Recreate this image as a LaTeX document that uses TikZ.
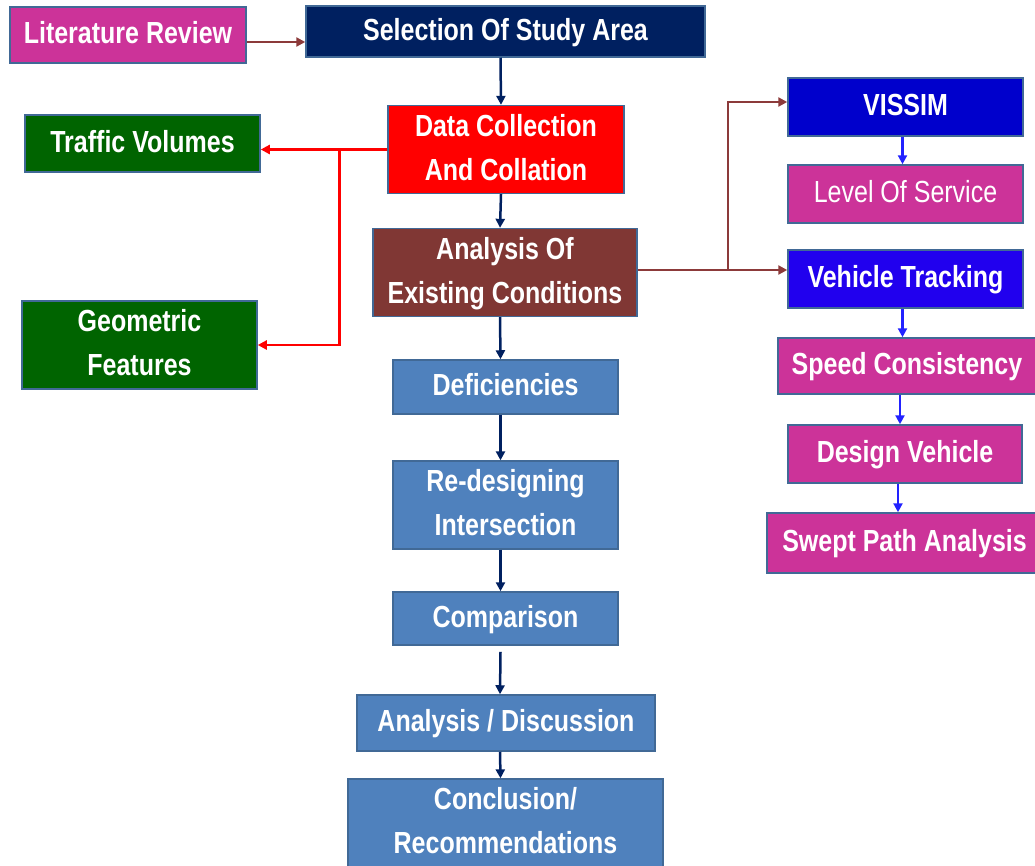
\documentclass[tikz,border=0pt]{standalone}
\usepackage{fontspec}
\setmainfont{Liberation Sans}
\usetikzlibrary{arrows.meta}
\definecolor{bordc}{RGB}{65,105,150}
\definecolor{magc}{RGB}{204,51,153}
\definecolor{navyc}{RGB}{0,32,96}
\definecolor{redc}{RGB}{255,0,0}
\definecolor{greenc}{RGB}{0,100,0}
\definecolor{brownc}{RGB}{128,55,52}
\definecolor{steelc}{RGB}{79,129,189}
\definecolor{visc}{RGB}{0,0,204}
\definecolor{vtc}{RGB}{33,0,238}
\definecolor{brarrc}{RGB}{140,58,58}
\definecolor{bluearrc}{RGB}{34,34,255}
\newcommand{\tx}[1]{\scalebox{1}[1.22]{\begin{tabular}{@{}c@{}}#1\end{tabular}}}
\begin{document}
\begin{tikzpicture}[x=1pt,y=-1pt,
  box/.style={draw=bordc, line width=1.5pt, inner sep=0pt, text=white,
    font=\fontsize{25}{36}\selectfont\bfseries},
  rbox/.style={box, font=\fontsize{25}{36}\selectfont},
  conn/.style={line width=2.5pt, -{Triangle[length=9pt,width=9pt]}},
  navyarr/.style={conn, draw=navyc},
  redarr/.style={conn, draw=redc},
  brarr/.style={conn, draw=brarrc},
  bluearr/.style={conn, draw=bluearrc}]
\useasboundingbox (0,0) rectangle (1035,865);
\fill[white] (0,0) rectangle (1035,865);

% left column
\node[box, fill=magc, minimum width=236pt, minimum height=56pt] (lit) at (128,35) {\tx{Literature Review}};
\node[box, fill=greenc, minimum width=235pt, minimum height=57pt] (traf) at (142.5,143.5) {\tx{Traffic Volumes}};
\node[box, fill=greenc, minimum width=235pt, minimum height=74pt] (geo) at (139.5,345) {\tx{Geometric\\Features}};

% central column
\node[box, fill=navyc, minimum width=399pt, minimum height=51pt] (sel) at (505.5,31.5) {\tx{Selection Of Study Area}};
\node[box, fill=redc, minimum width=236pt, minimum height=75pt] (data) at (506,149.5) {\tx{Data Collection\\And Collation}};
\node[box, fill=brownc, minimum width=264pt, minimum height=85pt] (ana) at (505,272.5) {\tx{Analysis Of\\Existing Conditions}};
\node[box, fill=steelc, minimum width=225pt, minimum height=54pt] (def) at (505.5,387) {\tx{Deficiencies}};
\node[box, fill=steelc, minimum width=225pt, minimum height=84pt] (redes) at (505.5,505) {\tx{Re-designing\\Intersection}};
\node[box, fill=steelc, minimum width=225pt, minimum height=53pt] (cmp) at (505.5,618.5) {\tx{Comparison}};
\node[box, fill=steelc, minimum width=298pt, minimum height=56pt] (ad) at (506,723) {\tx{Analysis / Discussion}};
\node[box, fill=steelc, minimum width=315pt, minimum height=86pt] (con) at (505.5,823) {\tx{Conclusion/\\Recommendations}};

% right column
\node[box, fill=visc, minimum width=235pt, minimum height=58pt] (vis) at (905.5,107) {\tx{VISSIM}};
\node[rbox, fill=magc, minimum width=235pt, minimum height=58pt] (los) at (905.5,194) {\tx{Level Of Service}};
\node[box, fill=vtc, minimum width=235pt, minimum height=58pt] (vt) at (905.5,279) {\tx{Vehicle Tracking}};
\node[box, fill=magc, minimum width=258pt, minimum height=56pt] (spd) at (907,366) {\tx{Speed Consistency}};
\node[box, fill=magc, minimum width=234pt, minimum height=58pt] (dv) at (905,454) {\tx{Design Vehicle}};
\node[box, fill=magc, minimum width=275pt, minimum height=60pt] (sw) at (904.5,543) {\tx{Swept Path Analysis}};

% connectors
\draw[brarr] ([yshift=-7pt]lit.east) -- ([yshift=-7pt]lit.east -| sel.west);
\draw[navyarr] ([xshift=-5pt]sel.south) -- ([xshift=-5pt]data.north);
\draw[navyarr] ([xshift=-5pt]data.south) -- ([xshift=-5pt]ana.north);
\draw[navyarr] ([xshift=-5pt]ana.south) -- ([xshift=-5pt]def.north);
\draw[navyarr] ([xshift=-5pt]def.south) -- ([xshift=-5pt]redes.north);
\draw[navyarr] ([xshift=-5pt]redes.south) -- ([xshift=-5pt]cmp.north);
\draw[navyarr] ([xshift=-5pt,yshift=-6pt]cmp.south) -- ([xshift=-6pt]ad.north);
\draw[navyarr] ([xshift=-6pt]ad.south) -- ([xshift=-5pt]con.north);

\draw[redarr] (data.west) -- (data.west -| traf.east);
\draw[redarr] (data.west) -- ++(-48,0) |- (geo.east);

\coordinate (j) at ([xshift=90pt,yshift=2.5pt]ana.east);
\draw[brarr] ([yshift=2.5pt]ana.east) -- (j) -- (j -| vt.west);
\draw[brarr] (j) |- ([yshift=5pt]vis.west);

\draw[bluearr] ([xshift=-3pt]vis.south) -- ([xshift=-3pt]los.north);
\draw[bluearr] ([xshift=-3pt]vt.south) -- ([xshift=-3pt]vt.south |- spd.north);
\draw[bluearr] ([xshift=-5pt]dv.north |- spd.south) -- ([xshift=-5pt]dv.north);
\draw[bluearr] ([xshift=-7pt]dv.south) -- ([xshift=-7pt]dv.south |- sw.north);
\end{tikzpicture}
\end{document}
